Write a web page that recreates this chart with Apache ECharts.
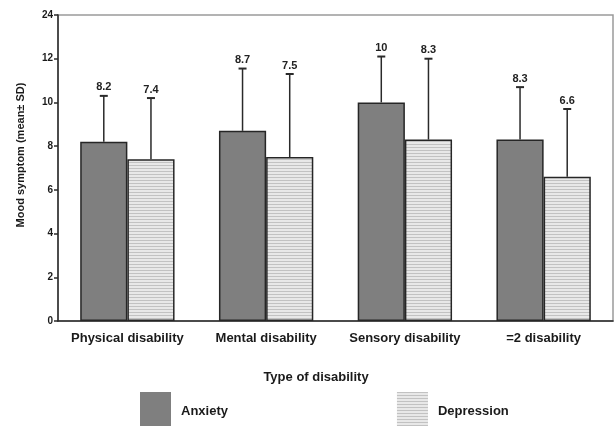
<!DOCTYPE html>
<html>
<head>
<meta charset="utf-8">
<script src="https://cdn.jsdelivr.net/npm/echarts@6/dist/echarts.min.js"></script>
<style>
  html, body { margin: 0; padding: 0; background: #fff; }
  #chart { width: 614px; height: 426px; }
</style>
</head>
<body>
<div id="chart"></div>
<script>
const categories = ['Physical disability', 'Mental disability', 'Sensory disability', '=2 disability']
const anxietyMean = [8.2, 8.7, 10, 8.3]
const anxietySD = [2.1, 2.85, 2.1, 2.4]
const depressionMean = [7.4, 7.5, 8.3, 6.6]
const depressionSD = [2.8, 3.8, 3.7, 3.1]
// axis is broken above 12, top tick reads 24
const yTickLabels = ['0', '2', '4', '6', '8', '10', '12', '24']

const FONT = '"Liberation Sans", Arial, sans-serif'
const BAR_GAP = 0.32

// horizontal stripe fill for depression
const makeStripes = () => {
  const c = document.createElement('canvas')
  c.width = 4
  c.height = 3
  const ctx = c.getContext('2d')
  ctx.fillStyle = '#e8e8e8'
  ctx.fillRect(0, 0, 4, 3)
  ctx.fillStyle = '#c2c2c2'
  ctx.fillRect(0, 0, 4, 1)
  return c
}
const stripes = { image: makeStripes(), repeat: 'repeat' }

const errorSeries = (name, means, sds, side) => ({
  type: 'custom',
  name: name + ' SD',
  silent: true,
  z: 3,
  data: means.map((m, i) => [i, m, m + sds[i]]),
  renderItem: (params, api) => {
    const idx = api.value(0)
    const low = api.coord([idx, api.value(1)])
    const high = api.coord([idx, api.value(2)])
    const catW = api.size([1, 0])[0]
    const barW = catW * (1 - BAR_GAP) / 2
    const x = low[0] + side * barW / 2
    const capW = 4
    const style = { stroke: '#2a2a2a', lineWidth: 1.5 }
    return {
      type: 'group',
      children: [
        { type: 'line', shape: { x1: x, y1: low[1], x2: x, y2: high[1] }, style },
        { type: 'line', shape: { x1: x - capW, y1: high[1], x2: x + capW, y2: high[1] }, style: { stroke: '#2a2a2a', lineWidth: 2 } },
        {
          type: 'text',
          style: {
            x: x,
            y: high[1] - 3,
            text: String(api.value(1)),
            align: 'center',
            verticalAlign: 'bottom',
            fill: '#222',
            font: 'bold 11px ' + FONT
          }
        }
      ]
    }
  }
})

const chart = echarts.init(document.getElementById('chart'))

chart.setOption({
  animation: false,
  backgroundColor: '#fff',
  textStyle: { fontFamily: FONT },
  grid: {
    left: 58,
    right: 1,
    top: 15,
    bottom: 105,
    show: true,
    borderColor: '#9a9a9a',
    borderWidth: 1.5
  },
  title: {
    text: 'Type of disability',
    left: 311,
    top: 366,
    textAlign: 'center',
    textStyle: { fontSize: 13, fontWeight: 'bold', color: '#1a1a1a', fontFamily: FONT }
  },
  legend: {
    left: 135,
    top: 387,
    itemWidth: 31,
    itemHeight: 38,
    itemGap: 169,
    icon: 'rect',
    data: ['Anxiety', 'Depression'],
    itemStyle: { borderWidth: 0 },
    textStyle: { fontSize: 13, fontWeight: 'bold', color: '#1a1a1a', fontFamily: FONT, padding: [0, 0, 0, 5] }
  },
  xAxis: {
    type: 'category',
    data: categories,
    axisLine: { lineStyle: { color: '#2a2a2a', width: 1.5 } },
    axisTick: { length: 6, lineStyle: { color: '#2a2a2a', width: 1.5 } },
    axisLabel: { interval: 0, fontSize: 13, fontWeight: 'bold', color: '#1a1a1a', margin: 11, fontFamily: FONT }
  },
  yAxis: {
    type: 'value',
    min: 0,
    max: 14,
    interval: 2,
    name: 'Mood symptom (mean± SD)',
    nameLocation: 'middle',
    nameGap: 32,
    nameTextStyle: { fontSize: 11, fontWeight: 'bold', color: '#1a1a1a', fontFamily: FONT, padding: [0, 0, 0, 26] },
    splitLine: { show: false },
    axisLine: { show: true, lineStyle: { color: '#2a2a2a', width: 1.5 } },
    axisTick: { show: true, length: 4, lineStyle: { color: '#2a2a2a', width: 1.5 } },
    axisLabel: {
      fontSize: 10,
      fontWeight: 'bold',
      color: '#1a1a1a',
      margin: 5,
      fontFamily: FONT,
      formatter: (v) => yTickLabels[Math.round(v / 2)]
    }
  },
  series: [
    {
      name: 'Anxiety',
      type: 'bar',
      data: anxietyMean,
      barGap: '0%',
      barCategoryGap: BAR_GAP * 100 + '%',
      itemStyle: { color: '#7f7f7f', borderColor: '#262626', borderWidth: 1.5 },
      z: 4
    },
    {
      name: 'Depression',
      type: 'bar',
      data: depressionMean,
      itemStyle: { color: stripes, borderColor: '#262626', borderWidth: 1.5 },
      z: 4
    },
    errorSeries('Anxiety', anxietyMean, anxietySD, -1),
    errorSeries('Depression', depressionMean, depressionSD, 1)
  ]
})

window.addEventListener('resize', () => chart.resize())
</script>
</body>
</html>
